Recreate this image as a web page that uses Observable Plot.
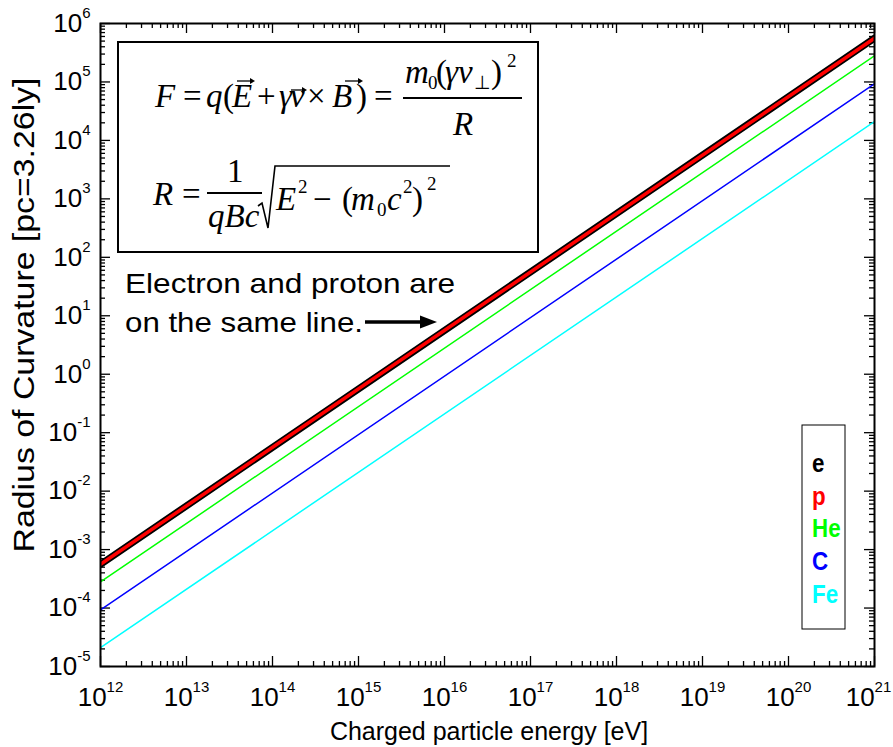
<!DOCTYPE html>
<html><head><meta charset="utf-8">
<script src="https://cdn.jsdelivr.net/npm/d3@7"></script>
<script src="https://cdn.jsdelivr.net/npm/@observablehq/plot@0.6"></script>
<style>html,body{margin:0;padding:0;background:#fff}</style>
</head><body><div id="chart"></div>
<script>
// ---- data ----
const energies = [1e12, 1e21];                 // eV
const species = ["e", "p", "He", "C", "Fe"];
const radiusE  = [5.6e-4, 5.6e5];              // pc
const radiusP  = [5.6e-4, 5.6e5];
const radiusHe = [2.8e-4, 2.8e5];
const radiusC  = [9.3e-5, 9.3e4];
const radiusFe = [2.1e-5, 2.1e4];
const xExponents = [12, 13, 14, 15, 16, 17, 18, 19, 20, 21];
const yExponents = [-5, -4, -3, -2, -1, 0, 1, 2, 3, 4, 5, 6];
const xLabel = "Charged particle energy [eV]";
const yLabel = "Radius of Curvature [pc=3.26ly]";
const noteLines = ["Electron and proton are", "on the same line."];

// ---- styles ----
const colors = ["#000000", "#ff0000", "#00ff00", "#0000ff", "#00ffff"];
const widths = [7, 3.5, 1.5, 1.5, 1.5];

const series = [radiusE, radiusP, radiusHe, radiusC, radiusFe];
const rows = species.flatMap((s, i) => energies.map((E, j) => ({species: s, E, R: series[i][j]})));

const xMajor = xExponents.map(e => 10 ** e);
const yMajor = yExponents.map(e => 10 ** e);
const mult = [2, 3, 4, 5, 6, 7, 8, 9];
const xMinor = xExponents.slice(0, -1).flatMap(e => mult.map(k => k * 10 ** e));
const yMinor = yExponents.slice(0, -1).flatMap(e => mult.map(k => k * 10 ** e));

const W = 893, H = 747, mL = 100, mR = 19, mT = 23, mB = 81;
const iw = W - mL - mR, ih = H - mT - mB;
const majLen = 10, minLen = 5;
const expFmt = d => String(Math.round(Math.log10(d)));
const narrow = "'Liberation Sans Narrow', 'Arial Narrow', 'Liberation Sans', Arial, sans-serif";

const svg = Plot.plot({
  width: W, height: H,
  marginLeft: mL, marginRight: mR, marginTop: mT, marginBottom: mB,
  x: {type: "log", domain: [1e12, 1e21]},
  y: {type: "log", domain: [1e-5, 1e6]},
  style: {fontFamily: narrow, fontSize: "26px", color: "black", background: "white"},
  marks: [
    // ticks (inward, mirrored)
    Plot.tickX(xMajor, {x: d => d, insetTop: ih - majLen, stroke: "black", strokeWidth: 1.3}),
    Plot.tickX(xMajor, {x: d => d, insetBottom: ih - majLen, stroke: "black", strokeWidth: 1.3}),
    Plot.tickX(xMinor, {x: d => d, insetTop: ih - minLen, stroke: "black", strokeWidth: 1.3}),
    Plot.tickX(xMinor, {x: d => d, insetBottom: ih - minLen, stroke: "black", strokeWidth: 1.3}),
    Plot.tickY(yMajor, {y: d => d, insetRight: iw - majLen, stroke: "black", strokeWidth: 1.3}),
    Plot.tickY(yMajor, {y: d => d, insetLeft: iw - majLen, stroke: "black", strokeWidth: 1.3}),
    Plot.tickY(yMinor, {y: d => d, insetRight: iw - minLen, stroke: "black", strokeWidth: 1.3}),
    Plot.tickY(yMinor, {y: d => d, insetLeft: iw - minLen, stroke: "black", strokeWidth: 1.3}),
    // tick labels
    Plot.axisX(xMajor, {anchor: "bottom", tickSize: 0, tickPadding: 21, tickFormat: expFmt, label: null}),
    Plot.axisY(yMajor, {anchor: "left", tickSize: 0, tickPadding: 10, tickFormat: expFmt, label: null}),
    // lines
    ...species.map((s, i) => Plot.line(rows.filter(d => d.species === s), {
      x: "E", y: "R", stroke: colors[i], strokeWidth: widths[i], clip: true
    })),
    Plot.frame({stroke: "black", strokeWidth: 2})
  ]
});

// superscript exponents on tick labels
d3.select(svg).selectAll('g[aria-label="x-axis tick label"], g[aria-label="y-axis tick label"]')
  .style("font-size", "26px").style("font-family", narrow);
d3.select(svg).selectAll('g[aria-label="x-axis tick label"] text, g[aria-label="y-axis tick label"] text').each(function () {
  const exp = this.textContent;
  this.textContent = "";
  const t = d3.select(this).style("font-size", "26px").style("font-family", narrow);
  const base = t.append("tspan").text("10");
  if (exp === String(xExponents[xExponents.length - 1]) && this.parentNode.getAttribute("aria-label") === "x-axis tick label") base.attr("dx", -6);
  t.append("tspan").attr("dy", -14).style("font-size", "15px").text(exp);
});

// ---- annotations ----
const g = d3.select(svg).append("g").attr("text-anchor", "start");
const sans = "'Liberation Sans', Arial, sans-serif";
const serif = "'Liberation Serif', 'Times New Roman', serif";

// axis titles
g.append("text").attr("transform", "translate(489,740)").attr("text-anchor", "middle")
  .attr("font-family", sans).attr("font-size", 25).attr("fill", "black").text(xLabel);
g.append("text").attr("transform", "translate(34,315) rotate(-90)").attr("text-anchor", "middle")
  .attr("font-family", sans).attr("font-size", 30).attr("textLength", 475).attr("lengthAdjust", "spacingAndGlyphs")
  .attr("fill", "black").text(yLabel);

// note + arrow
g.append("text").attr("x", 125).attr("y", 293).attr("font-family", sans).attr("font-size", 28)
  .attr("textLength", 330).attr("lengthAdjust", "spacingAndGlyphs").attr("fill", "black").text(noteLines[0]);
g.append("text").attr("x", 125).attr("y", 332).attr("font-family", sans).attr("font-size", 28)
  .attr("textLength", 238).attr("lengthAdjust", "spacingAndGlyphs").attr("fill", "black").text(noteLines[1]);
g.append("line").attr("x1", 365).attr("x2", 424).attr("y1", 322).attr("y2", 322).attr("stroke", "black").attr("stroke-width", 3.5);
g.append("path").attr("d", "M420,315.5L437,322L420,328.5Z").attr("fill", "black");

// equation box
g.append("rect").attr("x", 118).attr("y", 42).attr("width", 420).attr("height", 210)
  .attr("fill", "white").attr("stroke", "black").attr("stroke-width", 2);
const eq = [
  ["F",155,107,"i"],["=",183,107,"n"],["q",206,107,"i"],["(",223,107,"n"],["E",232,107,"i"],["+",257,107,"n"],
  ["γ",279,107,"i"],["v",290,107,"i"],["×",307,107,"n"],["B",332,107,"i"],[")",356,107,"n"],["=",374,107,"n"],
  ["m",405,83,"i"],["0",428,89,"s"],["(",436,83,"n"],["γ",445,83,"i"],["v",458,83,"i"],["⊥",474,89,"s"],[")",491,83,"n"],["2",507,67,"s"],
  ["R",453,135,"i"],
  ["R",153,205,"i"],["=",182,205,"n"],["1",227,182,"n"],["qBc",208,227,"i"],
  ["E",276,210,"i"],["2",298,193,"s"],["−",313,210,"n"],["(",342,210,"n"],["m",351,210,"i"],["0",377,216,"s"],
  ["c",387,210,"i"],["2",403,193,"s"],[")",412,210,"n"],["2",427,190,"s"]
];
eq.forEach(([t, x, y, k]) => {
  g.append("text").attr("x", x).attr("y", y).attr("font-family", serif)
    .attr("font-size", k === "s" ? 19 : 33).attr("font-style", k === "i" ? "italic" : "normal")
    .attr("fill", "black").text(t);
});
g.append("line").attr("x1", 403).attr("x2", 522).attr("y1", 98).attr("y2", 98).attr("stroke", "black").attr("stroke-width", 1.8);
g.append("line").attr("x1", 207).attr("x2", 262).attr("y1", 193).attr("y2", 193).attr("stroke", "black").attr("stroke-width", 1.8);
g.append("path").attr("d", "M258,206L262,203L268,228L275,166L450,166").attr("fill", "none").attr("stroke", "black").attr("stroke-width", 1.6);
[[237,255,81],[291,307,90],[345,363,81]].forEach(([x1, x2, y]) => {
  g.append("line").attr("x1", x1).attr("x2", x2 - 3).attr("y1", y).attr("y2", y).attr("stroke", "black").attr("stroke-width", 1.3);
  g.append("path").attr("d", `M${x2 - 5},${y - 3}L${x2},${y}L${x2 - 5},${y + 3}Z`).attr("fill", "black");
});

// legend
g.append("rect").attr("x", 802).attr("y", 425).attr("width", 43).attr("height", 204)
  .attr("fill", "white").attr("stroke", "black").attr("stroke-width", 1);
species.forEach((s, i) => {
  g.append("text").attr("transform", `translate(812,${472 + i * 32.7}) scale(0.86,1)`)
    .attr("font-family", sans).attr("font-weight", "bold").attr("font-size", 26)
    .attr("fill", colors[i]).text(s);
});

document.getElementById("chart").appendChild(svg);
</script>
</body></html>
